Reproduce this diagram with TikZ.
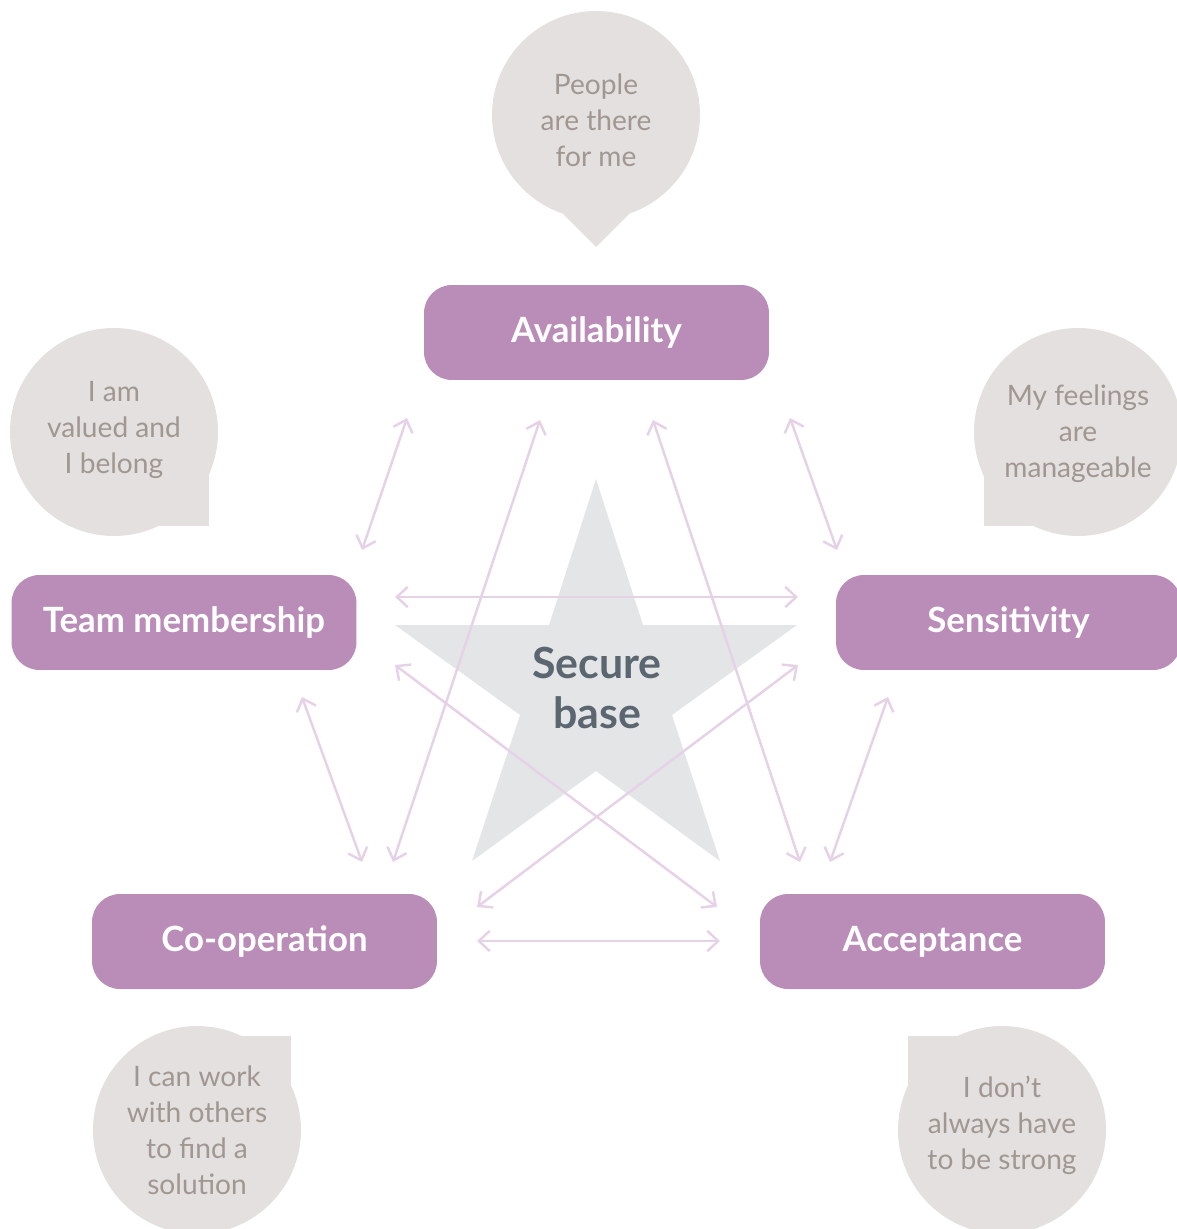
\documentclass[tikz,border=0pt]{standalone}
\usepackage{fontspec}
\setmainfont{Lato}
\usetikzlibrary{arrows.meta}
\definecolor{boxc}{HTML}{BA8CB8}
\definecolor{bubc}{HTML}{E4E0DF}
\definecolor{bubtxt}{HTML}{A09792}
\definecolor{starc}{HTML}{E4E5E7}
\definecolor{startxt}{HTML}{5B6670}
\definecolor{arrc}{HTML}{E6D2E6}
\tikzset{
  box/.style={fill=boxc, rounded corners=0.56cm, minimum width=6.9cm, minimum height=1.9cm,
    text=white, font={\fontsize{19.8}{22}\selectfont\bfseries}, inner sep=0pt},
  bubtext/.style={text=bubtxt, align=center, font={\fontsize{16}{20.4}\selectfont}, inner sep=0pt},
  bubfill/.style={fill=bubc},
  dbl/.style={draw=arrc, line width=1.4pt,
    {Straight Barb[length=6.2pt,width=11.5pt]}-{Straight Barb[length=6.2pt,width=11.5pt]}},
}
\begin{document}
\begin{tikzpicture}[x=0.02cm,y=-0.02cm]
\useasboundingbox (0,0) rectangle (1176,1229);
% star
\fill[starc] (596,479) -- (643,625) -- (797,625) -- (672,715) -- (720,861)
  -- (596,771) -- (472,861) -- (520,715) -- (395,625) -- (549,625) -- cycle;
% bubbles
\fill[bubfill] (596,115) circle (104);
\fill[bubfill] (546,197) -- (596,247) -- (646,197) -- cycle;
\fill[bubfill] (114,432) circle (104);
\fill[bubfill] (114,432) rectangle (209,526);
\fill[bubfill] (1078,432) circle (104);
\fill[bubfill] (1078,432) rectangle (984,526);
\fill[bubfill] (197,1130) circle (104);
\fill[bubfill] (197,1130) rectangle (291,1036);
\fill[bubfill] (1002,1130) circle (104);
\fill[bubfill] (1002,1130) rectangle (908,1036);
\node[bubtext] (t1) at (596,120) {People\\are there\\for me};
\node[bubtext] (t2) at (114,430) {I am\\valued and\\I belong};
\node[bubtext] (t3) at (1078,434) {My feelings\\are\\manageable};
\node[bubtext] (t4) at (197,1130) {I can work\\with others\\to find a\\solution};
\node[bubtext] (t5) at (1002,1125) {I don’t\\always have\\to be strong};
% boxes
\node[box] (avail) at (596.5,332.5) {Availability};
\node[box] (team) at (184,622.5) {Team membership};
\node[box] (sens) at (1008.5,622.5) {Sensitivity};
\node[box] (coop) at (264.5,941.5) {Co-operation};
\node[box] (acc) at (932.5,941.5) {Acceptance};
% arrow end points
\coordinate (a1) at (407,418); \coordinate (m1) at (362,550);
\coordinate (a2) at (540,420); \coordinate (c2) at (393,862);
\coordinate (a3) at (653,420); \coordinate (e3) at (800,862);
\coordinate (a4) at (790,418); \coordinate (s4) at (837,550);
\coordinate (m5) at (395,597); \coordinate (s5) at (798,597);
\coordinate (m6) at (395,665); \coordinate (e6) at (717,907);
\coordinate (s7) at (798,665); \coordinate (c7) at (477,907);
\coordinate (m8) at (302,697); \coordinate (c8) at (362,862);
\coordinate (s9) at (888,697); \coordinate (e9) at (830,862);
\coordinate (c10) at (477,941); \coordinate (e10) at (720,941);
\draw[dbl] (a1) -- (m1);
\draw[dbl] (a2) -- (c2);
\draw[dbl] (a3) -- (e3);
\draw[dbl] (a4) -- (s4);
\draw[dbl] (m5) -- (s5);
\draw[dbl] (m6) -- (e6);
\draw[dbl] (s7) -- (c7);
\draw[dbl] (m8) -- (c8);
\draw[dbl] (s9) -- (e9);
\draw[dbl] (c10) -- (e10);
% star text
\node[text=startxt, align=center, font={\fontsize{24.4}{28.5}\selectfont\bfseries}, inner sep=0pt] (sb) at (597,688) {Secure\\base};
\end{tikzpicture}
\end{document}
